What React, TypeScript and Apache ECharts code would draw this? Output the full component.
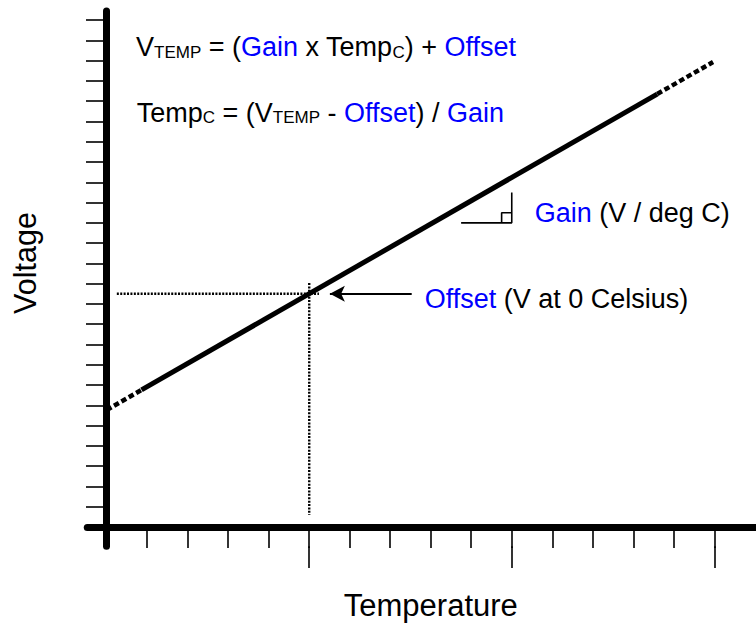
import React, { useEffect, useRef } from "react";
import * as echarts from "echarts";

// Axis extents (data units): axes cross at (0, 0) and overshoot slightly
const xRange = [-0.48, 16.03];
const yRange = [-0.95, 25.45];

// Tick positions
const xMinorTicks = [1, 2, 3, 4, 5, 6, 7, 8, 9, 10, 11, 12, 13, 14, 15];
const xMajorTicks = [5, 10, 15];
const yTicks = [1, 2, 3, 4, 5, 6, 7, 8, 9, 10, 11, 12, 13, 14, 15, 16, 17, 18, 19, 20, 21, 22, 23, 24, 25];

// Transfer line (temperature, voltage)
const lowerDashed = [[0, 5.77], [0.86, 6.76]];
const solidLine = [[0.86, 6.76], [13.59, 21.35]];
const upperDashed = [[13.59, 21.35], [14.97, 22.93]];

// Offset guides and arrow
const offsetHGuide = [[0.25, 11.5], [5.24, 11.5]];
const offsetVGuide = [[5, 12.03], [5, 0.59]];
const offsetArrow = [[7.53, 11.5], [5.51, 11.5]];

// Gain slope triangle
const gainRun = [[8.75, 15], [10, 15], [10, 16.5]];
const gainSquare = [[9.75, 15], [9.75, 15.5], [10, 15.5]];

const FONT = "'Liberation Sans', Arial, Helvetica, sans-serif";
const BLUE = "#0000ff";

export default function App() {
  const ref = useRef<HTMLDivElement>(null);

  useEffect(() => {
    if (!ref.current) return;
    const chart = echarts.init(ref.current, null, { renderer: "svg" });

    const mainStyle = { fontSize: 27, fontFamily: FONT, fill: "#000", lineHeight: 30, verticalAlign: "bottom" };
    const blueStyle = { ...mainStyle, fill: BLUE };
    const subStyle = { fontSize: 17, fontFamily: FONT, fill: "#000", lineHeight: 17, verticalAlign: "bottom" };
    const rich = { m: mainStyle, b: blueStyle, s: subStyle };

    const lineSeries = (data: number[][], width: number, type: any, extra: any = {}) => ({
      type: "line",
      data,
      symbol: "none",
      silent: true,
      xAxisIndex: 0,
      yAxisIndex: 0,
      lineStyle: { color: "#000", width, type, cap: "butt" },
      emphasis: { disabled: true },
      ...extra,
    });

    chart.setOption({
      animation: false,
      grid: { left: 87.26, right: 0, top: 10.9, bottom: 77.7, containLabel: false, outerBoundsMode: "none" },
      xAxis: [
        {
          type: "value",
          min: xRange[0],
          max: xRange[1],
          position: "bottom",
          axisLine: { show: true, onZero: true, lineStyle: { color: "#000", width: 7, cap: "round" } },
          axisTick: { show: true, customValues: xMinorTicks, length: 21, lineStyle: { color: "#000", width: 1.6 } },
          axisLabel: { show: false },
          splitLine: { show: false },
        },
        {
          type: "value",
          min: xRange[0],
          max: xRange[1],
          position: "bottom",
          axisLine: { show: false, onZero: false },
          axisTick: { show: true, customValues: xMajorTicks, length: 21.7, lineStyle: { color: "#000", width: 1.6 } },
          axisLabel: { show: false },
          splitLine: { show: false },
        },
      ],
      yAxis: {
        type: "value",
        min: yRange[0],
        max: yRange[1],
        axisLine: { show: true, onZero: true, lineStyle: { color: "#000", width: 7, cap: "round" } },
        axisTick: { show: true, customValues: yTicks, length: 20.7, lineStyle: { color: "#000", width: 1.6 } },
        axisLabel: { show: false },
        splitLine: { show: false },
      },
      series: [
        lineSeries(lowerDashed, 4.5, [5.5, 3]),
        lineSeries(solidLine, 5, "solid"),
        lineSeries(upperDashed, 4.5, [5.5, 3]),
        lineSeries(offsetHGuide, 2.4, [2, 1.4], {
          markLine: {
            silent: true,
            symbol: ["none", "arrow"],
            symbolSize: [12, 15],
            label: { show: false },
            emphasis: { disabled: true },
            lineStyle: { color: "#000", width: 2, type: "solid" },
            data: [[{ coord: offsetArrow[0] }, { coord: offsetArrow[1] }]],
          },
        }),
        lineSeries(offsetVGuide, 2.4, [2, 1.4]),
        lineSeries(gainRun, 1.6, "solid"),
        lineSeries(gainSquare, 1.6, "solid"),
      ],
      graphic: [
        {
          type: "text",
          x: 136,
          y: 60.6,
          silent: true,
          style: {
            text: "{m|V}{s|TEMP}{m| = (}{b|Gain}{m| x Temp}{s|C}{m|) + }{b|Offset}",
            rich,
            align: "left",
            verticalAlign: "bottom",
          },
        },
        {
          type: "text",
          x: 136.7,
          y: 126.1,
          silent: true,
          style: {
            text: "{m|Temp}{s|C}{m| = (V}{s|TEMP}{m| - }{b|Offset}{m|) / }{b|Gain}",
            rich,
            align: "left",
            verticalAlign: "bottom",
          },
        },
        {
          type: "text",
          x: 534.7,
          y: 226.2,
          silent: true,
          style: { text: "{b|Gain}{m| (V / deg C)}", rich, align: "left", verticalAlign: "bottom" },
        },
        {
          type: "text",
          x: 424.7,
          y: 312.8,
          silent: true,
          style: { text: "{b|Offset}{m| (V at 0 Celsius)}", rich, align: "left", verticalAlign: "bottom" },
        },
        {
          type: "text",
          x: 25.3,
          y: 263,
          rotation: Math.PI / 2,
          silent: true,
          style: { text: "Voltage", fontSize: 30.5, fontFamily: FONT, fill: "#000", align: "center", verticalAlign: "middle" },
        },
        {
          type: "text",
          x: 430.8,
          y: 605,
          silent: true,
          style: { text: "Temperature", fontSize: 31, fontFamily: FONT, fill: "#000", align: "center", verticalAlign: "middle" },
        },
      ],
    });

    return () => chart.dispose();
  }, []);

  return <div ref={ref} style={{ position: "fixed", left: 0, top: 0, width: 756, height: 624, background: "#fff" }} />;
}
